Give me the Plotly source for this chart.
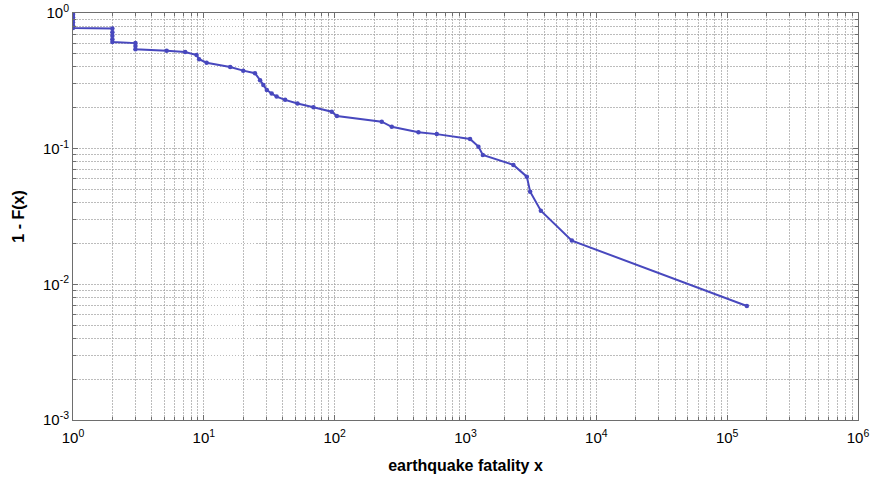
import plotly.graph_objects as go

# CCDF of earthquake fatalities
fatality = [1, 1, 1, 1, 1, 1, 1,
            2, 2, 2, 2, 2,
            3, 3, 3,
            5.2, 7.2, 8.8, 9.2, 10.5, 15.9, 20, 24.6, 26.9, 28.5, 30.3, 33, 36, 41.8,
            52, 68.8, 95, 104,
            229, 273, 437, 603, 1084, 1256, 1356, 2323, 2942, 3120, 3766, 6500, 141400]
ccdf = [1.0, 0.97, 0.93, 0.89, 0.85, 0.81, 0.775,
        0.77, 0.72, 0.68, 0.64, 0.61,
        0.6, 0.57, 0.54,
        0.527, 0.516, 0.49, 0.456, 0.43, 0.40, 0.376, 0.36, 0.32, 0.295, 0.271, 0.255, 0.242, 0.229,
        0.215, 0.2018, 0.187, 0.174,
        0.158, 0.145, 0.132, 0.128, 0.118, 0.1035, 0.0899, 0.0759, 0.0622, 0.0482, 0.0349, 0.021, 0.00693]

x_decades = [0, 1, 2, 3, 4, 5, 6]
x_tick_text = ["10<sup>0</sup>", "10<sup>1</sup>", "10<sup>2</sup>", "10<sup>3</sup>",
               "10<sup>4</sup>", "10<sup>5</sup>", "10<sup>6</sup>"]
y_decades = [-3, -2, -1, 0]
y_tick_text = ["10<sup>-3</sup>", "10<sup>-2</sup>", "10<sup>-1</sup>", "10<sup>0</sup>"]

x_tick_vals = [10.0 ** d for d in x_decades]
y_tick_vals = [10.0 ** d for d in y_decades]
x_minor_vals = [m * 10.0 ** d for d in x_decades[:-1] for m in range(2, 10)]
y_minor_vals = [m * 10.0 ** d for d in y_decades[:-1] for m in range(2, 10)]

line_color = "rgb(72,72,190)"
grid_color = "rgba(165,165,165,0.75)"
frame_color = "rgb(110,110,110)"
font_family = "Liberation Sans, Arial"
grid_dash = "1.5px,1.5px"

fig = go.Figure()
fig.add_trace(go.Scatter(
    x=fatality, y=ccdf, mode="lines+markers",
    line=dict(color=line_color, width=2),
    marker=dict(color=line_color, size=4.5),
    showlegend=False,
))

axis_common = dict(
    type="log",
    showline=True, mirror="ticks", linecolor=frame_color, linewidth=1,
    ticks="inside", ticklen=5, tickcolor=frame_color,
    showgrid=True, gridcolor=grid_color, griddash=grid_dash, gridwidth=1,
    zeroline=False, automargin=False,
    tickfont=dict(family=font_family, size=15, color="black"),
)

fig.update_xaxes(
    **axis_common,
    range=[0, 6],
    tickvals=x_tick_vals, ticktext=x_tick_text,
    minor=dict(tickvals=x_minor_vals, showgrid=True, gridcolor=grid_color,
               griddash=grid_dash, gridwidth=1,
               ticks="inside", ticklen=3, tickcolor=frame_color),
    ticklabelstandoff=4,
    title=dict(text="<b>earthquake fatality x</b>", standoff=14,
               font=dict(family=font_family, size=16, color="black")),
)
fig.update_yaxes(
    **axis_common,
    range=[-3, 0],
    tickvals=y_tick_vals, ticktext=y_tick_text,
    minor=dict(tickvals=y_minor_vals, showgrid=True, gridcolor=grid_color,
               griddash=grid_dash, gridwidth=1,
               ticks="inside", ticklen=3, tickcolor=frame_color),
    title=dict(text="<b>1 - F(x)</b>", standoff=14,
               font=dict(family=font_family, size=16, color="black")),
)

fig.update_layout(
    width=873, height=478,
    margin=dict(l=73, r=15, t=13, b=58),
    plot_bgcolor="white", paper_bgcolor="white",
)

fig.write_html("out.html")
